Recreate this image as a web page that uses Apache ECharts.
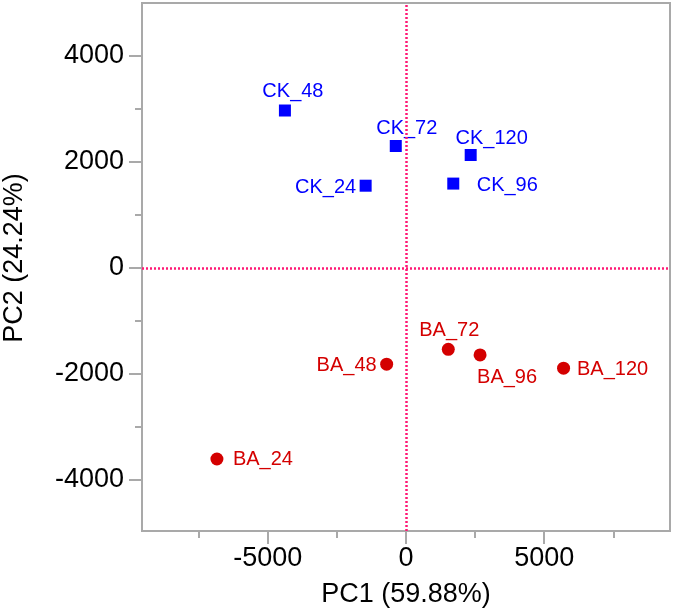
<!DOCTYPE html>
<html>
<head>
<meta charset="utf-8">
<script src="https://cdn.jsdelivr.net/npm/echarts@6/dist/echarts.min.js"></script>
<style>html,body{margin:0;padding:0;background:#fff}#c{width:675px;height:615px}</style>
</head>
<body>
<div id="c"></div>
<script>
// ---- data ----
var ckNames = ['CK_24', 'CK_48', 'CK_72', 'CK_96', 'CK_120'];
var ckPC1   = [-1460, -4380, -370, 1710, 2340];
var ckPC2   = [1550, 2970, 2300, 1590, 2130];
var baNames = ['BA_24', 'BA_48', 'BA_72', 'BA_96', 'BA_120'];
var baPC1   = [-6840, -700, 1530, 2680, 5700];
var baPC2   = [-3610, -1820, -1540, -1645, -1895];
var xMajorTicks = [-5000, 0, 5000];
var xMinorTicks = [-7500, -2500, 2500, 7500];
var yMajorTicks = [-4000, -2000, 0, 2000, 4000];
var yMinorTicks = [-3000, -1000, 1000, 3000];
var xTitle = 'PC1 (59.88%)';
var yTitle = 'PC2 (24.24%)';

// ---- label placement (pixels, layout only) ----
var labelOffset = {
  'CK_24': [-40, 2], 'CK_48': [8, -19], 'CK_72': [11, -18], 'CK_96': [54, 2], 'CK_120': [21, -17],
  'BA_24': [46, 1], 'BA_48': [-40, 1], 'BA_72': [1, -19], 'BA_96': [27, 23], 'BA_120': [49, 1]
};

function build(names, xs, ys) {
  return names.map(function (n, i) {
    return { name: n, value: [xs[i], ys[i]], label: { offset: labelOffset[n] } };
  });
}
function plain(v) { return String(v); }

var FONT = 'Liberation Sans, Arial, sans-serif';
var GREY = '#a9a9a9';
var XMIN = -9550, XMAX = 9550, YMIN = -4970, YMAX = 5000;

var chart = echarts.init(document.getElementById('c'), null, { renderer: 'canvas' });
chart.setOption({
  animation: false,
  backgroundColor: '#fff',
  grid: { left: 142, right: 5, top: 3, bottom: 84, show: true, borderColor: GREY, borderWidth: 2,
          containLabel: false, outerBoundsMode: 'none' },
  xAxis: [{
    type: 'value', min: XMIN, max: XMAX, position: 'bottom',
    name: xTitle, nameLocation: 'middle', nameGap: 50,
    nameTextStyle: { fontFamily: FONT, fontSize: 27, color: '#000' },
    axisLine: { show: true, onZero: false, lineStyle: { color: GREY, width: 2 } },
    axisTick: { show: true, length: 13, customValues: xMajorTicks, lineStyle: { color: GREY, width: 2 } },
    axisLabel: { customValues: xMajorTicks, formatter: plain, margin: 14, fontFamily: FONT, fontSize: 27, color: '#000' },
    splitLine: { show: false }
  }, {
    type: 'value', min: XMIN, max: XMAX, position: 'bottom',
    axisLine: { show: false, onZero: false },
    axisTick: { show: true, length: 7, customValues: xMinorTicks, lineStyle: { color: GREY, width: 2 } },
    axisLabel: { show: false },
    splitLine: { show: false }
  }],
  yAxis: [{
    type: 'value', min: YMIN, max: YMAX, position: 'left',
    name: yTitle, nameLocation: 'middle', nameGap: 114, nameRotate: 90,
    nameTextStyle: { fontFamily: FONT, fontSize: 27, color: '#000', padding: [0, 0, 0, 18] },
    axisLine: { show: true, onZero: false, lineStyle: { color: GREY, width: 2 } },
    axisTick: { show: true, length: 13, customValues: yMajorTicks, lineStyle: { color: GREY, width: 2 } },
    axisLabel: { customValues: yMajorTicks, formatter: plain, margin: 18, fontFamily: FONT, fontSize: 27, color: '#000' },
    splitLine: { show: false }
  }, {
    type: 'value', min: YMIN, max: YMAX, position: 'left',
    axisLine: { show: false, onZero: false },
    axisTick: { show: true, length: 7, customValues: yMinorTicks, lineStyle: { color: GREY, width: 2 } },
    axisLabel: { show: false },
    splitLine: { show: false }
  }],
  series: [{
    type: 'scatter', name: 'BA', xAxisIndex: 0, yAxisIndex: 0,
    symbol: 'circle', symbolSize: 13,
    itemStyle: { color: '#d40000', opacity: 1 },
    label: { show: true, position: 'inside', formatter: '{b}', color: '#d40000', fontFamily: FONT, fontSize: 20, align: 'center', verticalAlign: 'middle' },
    data: build(baNames, baPC1, baPC2),
    markLine: {
      silent: true, symbol: 'none', animation: false,
      label: { show: false },
      lineStyle: { color: '#ff1a75', type: [2, 2], width: 2.5, opacity: 1 },
      emphasis: { disabled: true },
      data: [{ xAxis: 0 }, { yAxis: 0 }]
    },
    z: 2
  }, {
    type: 'scatter', name: 'CK', xAxisIndex: 0, yAxisIndex: 0,
    symbol: 'rect', symbolSize: 12,
    itemStyle: { color: '#0000ff', opacity: 1 },
    label: { show: true, position: 'inside', formatter: '{b}', color: '#0000ff', fontFamily: FONT, fontSize: 20, align: 'center', verticalAlign: 'middle' },
    data: build(ckNames, ckPC1, ckPC2),
    z: 3
  }]
});
</script>
</body>
</html>
